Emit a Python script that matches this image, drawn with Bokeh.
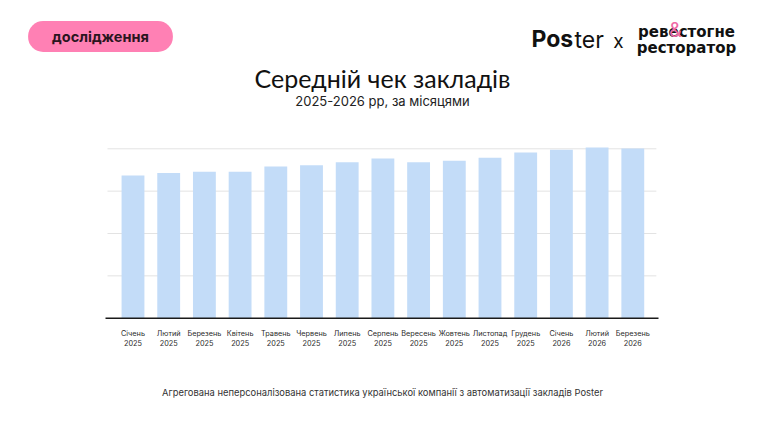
from bokeh.plotting import figure
from bokeh.models import Label
from bokeh.core.properties import value
from bokeh.embed import file_html
from bokeh.resources import INLINE

months = ["Січень", "Лютий", "Березень", "Квітень", "Травень", "Червень", "Липень",
          "Серпень", "Вересень", "Жовтень", "Листопад", "Грудень", "Січень", "Лютий", "Березень"]
years = ["2025"] * 12 + ["2026"] * 3
values = [3.37, 3.43, 3.46, 3.46, 3.58, 3.61, 3.68, 3.77, 3.68, 3.72, 3.79, 3.91, 3.98, 4.03, 4.01]
grid_ticks = [1, 2, 3, 4]

title_text = "Середній чек закладів"
subtitle_text = "2025-2026 рр, за місяцями"
footer_text = "Агрегована неперсоналізована статистика української компанії з автоматизації закладів Poster"
badge_text = "дослідження"

FONT = "Inter"
W, H = 748, 414
PX_X = 35.7    # px per category
PX_Y = 42.35   # px per value unit
X0_PX = 132.5  # px of first category centre
Y0_PX = 317.7  # px of baseline

xs = list(range(len(values)))
x_start = -X0_PX / PX_X
y_start = -(H - Y0_PX) / PX_Y

p = figure(width=W, height=H, output_backend="svg", toolbar_location=None,
           x_range=(x_start, x_start + W / PX_X), y_range=(y_start, y_start + H / PX_Y),
           min_border=0)
p.outline_line_color = None
p.background_fill_color = "white"
p.border_fill_color = "white"
p.axis.visible = False
p.grid.visible = False

grid_x0, grid_x1 = -0.714, 14.66
# grid lines
p.segment(x0=[grid_x0] * len(grid_ticks), x1=[grid_x1] * len(grid_ticks),
          y0=grid_ticks, y1=grid_ticks, line_color="#e3e3e3", line_width=1)
# bars
p.vbar(x=xs, top=values, width=0.64, bottom=0, fill_color="#c3dcf8", line_color=None)
# baseline
p.segment(x0=[-0.77], x1=[14.72], y0=[0], y1=[0], line_color="#1a1a1a", line_width=1.6)

# category labels
p.text(x=xs, y=[0] * len(xs), text=months, y_offset=15.5, text_font=value(FONT),
       text_font_size="7.3px", text_color="#2a2a2a", text_align="center", text_baseline="middle")
p.text(x=xs, y=[0] * len(xs), text=years, y_offset=24.5, text_font=value(FONT),
       text_font_size="7.3px", text_color="#2a2a2a", text_align="center", text_baseline="middle")

def add_label(text, px, py, size, color="#111111", style="normal", align="center", font=FONT, **kw):
    p.add_layout(Label(x=px, y=H - py, x_units="screen", y_units="screen", text=text,
                       text_font=font, text_font_size=size, text_color=color,
                       text_font_style=style, text_align=align, text_baseline="middle", **kw))

add_label(title_text, 382, 77, "25px", color="#111111", font="Lato")
add_label(subtitle_text, 382, 100, "13px", color="#222222")
add_label(footer_text, 382, 392, "9.4px", color="#333333")

# badge
p.add_layout(Label(x=100, y=H - 36, x_units="screen", y_units="screen", text=badge_text,
                   text_font=FONT, text_font_size="14.5px", text_font_style="bold", text_color="#2a1520",
                   text_align="center", text_baseline="middle",
                   background_fill_color="#ff80b4", padding=(24, 7), border_radius=15))

# logo
add_label("Pos", 531, 38, "23px", color="#111111", style="bold", align="left")
add_label("ter", 574, 39, "23px", color="#111111", align="left")
add_label("x", 618, 41, "19px", color="#111111")
add_label("ревестогне", 686, 31, "15px", color="#111111", style="bold", font="DejaVu Sans")
add_label("ресторатор", 686, 47, "15px", color="#111111", style="bold", font="DejaVu Sans")
add_label("&", 675, 29, "20px", color="#f06aa6")

open("out.html", "w").write(file_html(p, INLINE))
